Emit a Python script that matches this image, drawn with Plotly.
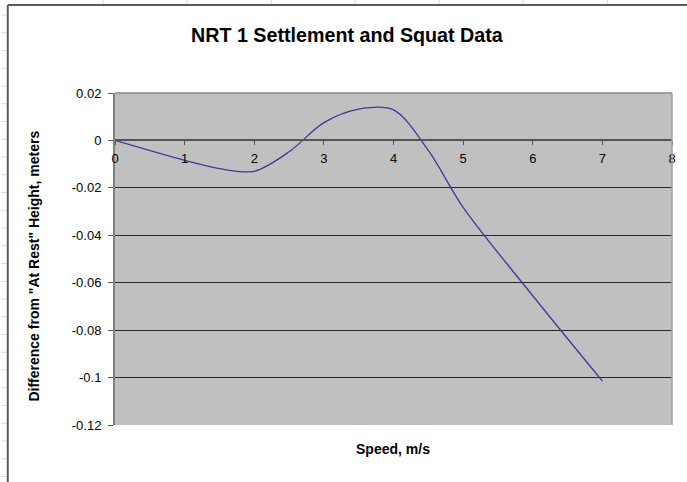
import plotly.graph_objects as go

# Data
speed = [0, 1, 1.5, 2, 2.5, 3, 3.5, 4, 4.5, 5, 6, 7]
height_diff = [0.0, -0.0084, -0.0119, -0.0130, -0.0048, 0.0075, 0.0132, 0.0129,
               -0.0042, -0.0282, -0.0655, -0.1015]

x_ticks = [0, 1, 2, 3, 4, 5, 6, 7, 8]
y_ticks = [0.02, 0, -0.02, -0.04, -0.06, -0.08, -0.1, -0.12]
y_tick_text = ["0.02", "0", "-0.02", "-0.04", "-0.06", "-0.08", "-0.1", "-0.12"]

W, H = 687, 482
L, R, T, B = 115, 11, 93, 57
PW, PH = W - L - R, H - T - B


def px(x):
    return (x - L) / PW


def py(y):
    return (H - B - y) / PH


FONT = "Liberation Sans, Arial, sans-serif"

fig = go.Figure()
fig.add_trace(go.Scatter(
    x=speed, y=height_diff, mode="lines",
    line=dict(color="#3a3a98", width=1.3, shape="spline", smoothing=0.9),
    hoverinfo="skip", showlegend=False,
))

shapes = []
# spreadsheet background grid (outside the chart area)
for gx in [103, 187.5, 272.5, 357, 441.5, 526, 611]:
    shapes.append(dict(type="line", xref="paper", yref="paper",
                       x0=px(gx), x1=px(gx), y0=py(0), y1=py(5),
                       line=dict(color="#d4dcea", width=1)))
k = 0
while 15 + 17.75 * k < H:
    gy = 15 + 17.75 * k
    shapes.append(dict(type="line", xref="paper", yref="paper",
                       x0=px(0), x1=px(7), y0=py(gy), y1=py(gy),
                       line=dict(color="#d4dcea", width=1)))
    k += 1
# chart area border
shapes.append(dict(type="line", xref="paper", yref="paper",
                   x0=px(7), x1=px(7), y0=py(5), y1=py(H + 5),
                   line=dict(color="#5a5a5a", width=2)))
shapes.append(dict(type="line", xref="paper", yref="paper",
                   x0=px(7), x1=px(W + 5), y0=py(5), y1=py(5),
                   line=dict(color="#5a5a5a", width=2)))
# plot area border (top and right)
shapes.append(dict(type="line", xref="paper", yref="paper",
                   x0=0, x1=1, y0=1, y1=1,
                   line=dict(color="#8a8a8a", width=1.5)))
shapes.append(dict(type="line", xref="paper", yref="paper",
                   x0=1, x1=1, y0=0, y1=1,
                   line=dict(color="#a0a0a0", width=1.5)))

zero_pos = (0 - (-0.12)) / (0.02 - (-0.12))

fig.update_layout(
    width=W, height=H,
    margin=dict(l=L, r=R, t=T, b=B),
    paper_bgcolor="white",
    plot_bgcolor="#c0c0c0",
    font=dict(family=FONT, size=13, color="#000000"),
    shapes=shapes,
    xaxis=dict(
        range=[0, 8], tickvals=x_ticks, ticktext=[str(v) for v in x_ticks],
        showgrid=False, zeroline=False,
        anchor="free", position=zero_pos,
        showline=True, linecolor="#555555", linewidth=2,
        ticks="outside", ticklen=4, tickcolor="#555555", tickwidth=1,
        tickfont=dict(family=FONT, size=13, color="#000000"),
        ticklabelstandoff=2,
    ),
    yaxis=dict(
        range=[-0.12, 0.02], tickvals=y_ticks, ticktext=y_tick_text,
        showgrid=True, gridcolor="#262626", gridwidth=1,
        zeroline=False,
        showline=True, linecolor="#808080", linewidth=2,
        ticks="outside", ticklen=5, tickcolor="#555555", tickwidth=1,
        tickfont=dict(family=FONT, size=13, color="#000000"),
        ticklabelstandoff=4,
    ),
    annotations=[
        dict(text="<b>NRT 1 Settlement and Squat Data</b>", xref="paper", yref="paper",
             x=px(349), y=py(35), xanchor="center", yanchor="middle", showarrow=False,
             font=dict(family=FONT, size=19.7, color="#000000")),
        dict(text="<b>Speed, m/s</b>", xref="paper", yref="paper",
             x=px(395), y=py(449), xanchor="center", yanchor="middle", showarrow=False,
             font=dict(family=FONT, size=14, color="#000000")),
        dict(text="<b>Difference from \"At Rest\" Height, meters</b>", xref="paper", yref="paper",
             x=px(33), y=py(266), xanchor="center", yanchor="middle", showarrow=False,
             textangle=-90,
             font=dict(family=FONT, size=14, color="#000000")),
    ],
)

fig.write_html(
    "out.html",
    config={"displayModeBar": False, "staticPlot": True},
    post_script="document.body.style.margin='0';document.body.style.overflow='hidden';",
)
